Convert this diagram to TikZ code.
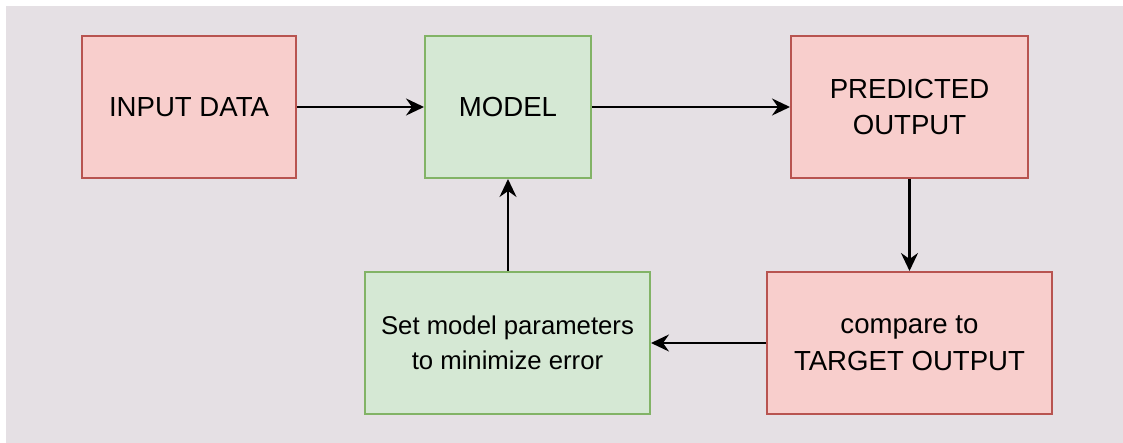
\documentclass[tikz,border=0pt]{standalone}
\usepackage{fontspec}
\setmainfont{Liberation Sans}
\usetikzlibrary{arrows.meta}
\definecolor{canvas}{HTML}{E5E0E4}
\definecolor{redfill}{HTML}{F8CECC}
\definecolor{redline}{HTML}{B85450}
\definecolor{greenfill}{HTML}{D5E8D4}
\definecolor{greenline}{HTML}{82B366}
\tikzset{
  box/.style={draw, line width=2pt, minimum width=#1, minimum height=142pt,
    inner sep=0pt, align=center, font=\fontsize{27.6}{36.5}\selectfont},
  redbox/.style={box=#1, fill=redfill, draw=redline},
  greenbox/.style={box=#1, fill=greenfill, draw=greenline},
  flow/.style={line width=2.2pt, -{Stealth[length=18pt,width=17pt,inset=6pt]}}
}
\begin{document}
\begin{tikzpicture}[x=1pt,y=-1pt]
  \useasboundingbox (0,0) rectangle (1123,443);
  \fill[white] (0,0) rectangle (1123,443);
  \fill[canvas] (6,6) rectangle (1123,443);

  \node[redbox=214pt] (input) at (189,107) {INPUT DATA};
  \node[greenbox=166pt] (model) at (508,107) {MODEL};
  \node[redbox=237pt] (pred) at (909.5,107) {PREDICTED\\OUTPUT};
  \node[redbox=285pt] (cmp) at (909.5,343) {compare to\\TARGET OUTPUT};
  \node[greenbox=285pt, font=\fontsize{25.7}{35}\selectfont] (set) at (507.5,343)
    {Set model parameters\\to minimize error};

  \draw[flow] (input) -- (model);
  \draw[flow] (model) -- (pred);
  \draw[flow] (pred) -- (cmp);
  \draw[flow] (cmp) -- (set);
  \draw[flow] (set.north -| model.south) -- (model.south);
\end{tikzpicture}
\end{document}
